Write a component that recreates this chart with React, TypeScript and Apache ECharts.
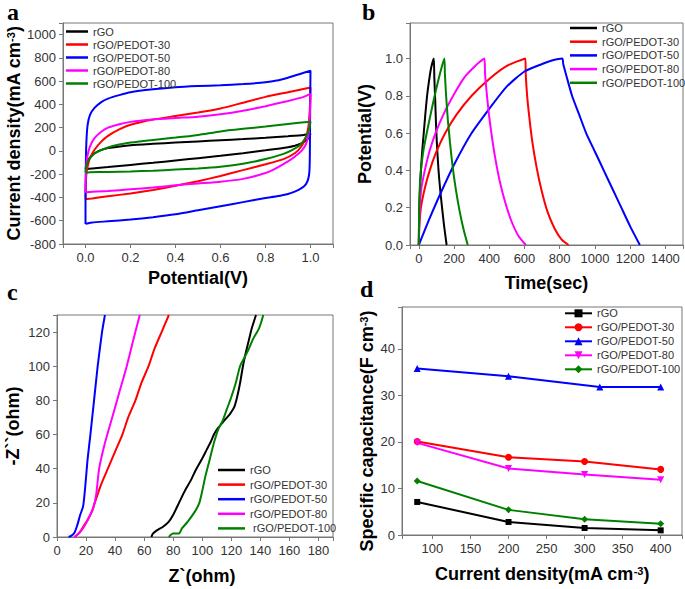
import React, { useEffect, useRef } from 'react';
import * as echarts from 'echarts';

const FONT = "'Liberation Sans', Arial, Helvetica, sans-serif";
const SERIF = "'Liberation Serif', 'Times New Roman', serif";

const NAMES = ['rGO', 'rGO/PEDOT-30', 'rGO/PEDOT-50', 'rGO/PEDOT-80', 'rGO/PEDOT-100'];
const COLORS = ['#000000', '#ff0000', '#0000ff', '#ff00ff', '#008000'];

// ---------- Panel a: CV loops [potential V, current density mA cm-3]
const CV_RGO = [[0, -155], [0.005, -110], [0.015, -70], [0.03, -35], [0.06, 0], [0.1, 25], [0.2, 50], [0.3, 62], [0.4, 72], [0.5, 82], [0.6, 92], [0.7, 102], [0.8, 113], [0.9, 127], [0.97, 138], [1.0, 148], [0.995, 120], [0.98, 90], [0.96, 65], [0.93, 45], [0.9, 32], [0.8, 5], [0.7, -20], [0.6, -42], [0.5, -62], [0.4, -82], [0.3, -102], [0.2, -120], [0.1, -138], [0.03, -150], [0, -155]];
const CV_30 = [[0, -415], [0.001, -300], [0.004, -200], [0.01, -130], [0.02, -60], [0.04, 10], [0.07, 80], [0.1, 130], [0.15, 185], [0.2, 225], [0.3, 270], [0.4, 300], [0.5, 330], [0.6, 365], [0.7, 415], [0.8, 465], [0.9, 505], [1.0, 545], [0.998, 400], [0.995, 300], [0.99, 200], [0.98, 120], [0.96, 40], [0.93, -20], [0.88, -70], [0.8, -115], [0.7, -165], [0.6, -215], [0.5, -260], [0.4, -300], [0.3, -335], [0.2, -365], [0.1, -390], [0.03, -408], [0, -415]];
const CV_50 = [[0, -628], [0, -450], [0.001, -250], [0.002, -50], [0.005, 120], [0.01, 230], [0.02, 310], [0.04, 370], [0.07, 420], [0.1, 450], [0.15, 480], [0.2, 505], [0.3, 530], [0.4, 548], [0.5, 558], [0.6, 565], [0.7, 575], [0.8, 590], [0.85, 605], [0.9, 630], [0.95, 660], [1.0, 690], [0.999, 500], [0.998, 200], [0.997, -50], [0.995, -180], [0.99, -240], [0.98, -285], [0.96, -320], [0.93, -350], [0.9, -370], [0.85, -390], [0.8, -405], [0.7, -440], [0.6, -475], [0.5, -510], [0.4, -545], [0.3, -570], [0.2, -590], [0.1, -605], [0.03, -615], [0.005, -625], [0, -628]];
const CV_80 = [[0, -355], [0.001, -250], [0.003, -150], [0.008, -50], [0.02, 40], [0.04, 110], [0.07, 165], [0.1, 200], [0.15, 230], [0.2, 250], [0.3, 270], [0.4, 283], [0.5, 295], [0.6, 315], [0.7, 345], [0.8, 385], [0.9, 430], [0.97, 465], [1.0, 490], [0.998, 350], [0.995, 220], [0.99, 130], [0.98, 60], [0.96, 0], [0.93, -50], [0.9, -90], [0.85, -145], [0.8, -190], [0.7, -240], [0.6, -265], [0.5, -280], [0.4, -295], [0.3, -315], [0.2, -330], [0.1, -345], [0.02, -352], [0, -355]];
const CV_100 = [[0, -185], [0.003, -140], [0.01, -95], [0.025, -50], [0.05, -10], [0.1, 30], [0.15, 55], [0.2, 72], [0.3, 95], [0.4, 115], [0.5, 138], [0.6, 168], [0.7, 190], [0.8, 210], [0.9, 232], [1.0, 252], [0.995, 200], [0.985, 140], [0.97, 90], [0.95, 45], [0.92, 10], [0.88, -25], [0.8, -70], [0.7, -110], [0.6, -135], [0.5, -150], [0.4, -160], [0.3, -170], [0.2, -176], [0.1, -180], [0.02, -184], [0, -185]];

// ---------- Panel b: GCD [time s, potential V]
const GCD_RGO = [[0, 0], [1, 0.1], [3, 0.2], [7, 0.3], [12, 0.4], [19, 0.5], [28, 0.6], [37, 0.7], [47, 0.8], [58, 0.88], [70, 0.95], [85, 1.0], [88, 0.9], [93, 0.78], [98, 0.64], [104, 0.52], [112, 0.4], [121, 0.3], [132, 0.2], [144, 0.1], [158, 0]];
const GCD_30 = [[0, 0], [3, 0.1], [12, 0.2], [33, 0.3], [62, 0.4], [100, 0.5], [150, 0.6], [215, 0.7], [300, 0.8], [400, 0.89], [500, 0.96], [605, 1.0], [607, 0.92], [615, 0.8], [628, 0.68], [645, 0.55], [668, 0.42], [695, 0.3], [730, 0.18], [770, 0.09], [810, 0.03], [850, 0]];
const GCD_50 = [[0, 0], [30, 0.07], [60, 0.14], [125, 0.28], [200, 0.43], [300, 0.6], [400, 0.73], [500, 0.85], [600, 0.93], [700, 0.97], [760, 0.99], [815, 1.0], [820, 0.97], [840, 0.9], [870, 0.8], [910, 0.7], [950, 0.6], [1000, 0.5], [1050, 0.4], [1100, 0.3], [1150, 0.2], [1200, 0.1], [1255, 0]];
const GCD_80 = [[0, 0], [2, 0.1], [6, 0.2], [14, 0.3], [34, 0.4], [60, 0.5], [95, 0.6], [140, 0.7], [195, 0.8], [260, 0.9], [320, 0.96], [372, 1.0], [376, 0.92], [385, 0.82], [398, 0.7], [415, 0.58], [435, 0.46], [460, 0.34], [490, 0.23], [525, 0.13], [565, 0.05], [608, 0]];
const GCD_100 = [[0, 0], [1, 0.1], [2, 0.2], [5, 0.3], [12, 0.4], [25, 0.5], [45, 0.6], [67, 0.7], [90, 0.8], [118, 0.91], [145, 1.0], [148, 0.92], [155, 0.8], [165, 0.67], [177, 0.55], [192, 0.42], [210, 0.3], [232, 0.18], [255, 0.08], [278, 0]];

// ---------- Panel c: Nyquist [Z' ohm, -Z'' ohm]
const EIS_RGO = [[65, 0], [66, 2], [69, 4], [73, 6], [77, 9], [80, 13], [84, 20], [88, 27], [92, 33], [96, 40], [100, 46], [103, 51], [106, 56], [108, 60], [111, 64], [115, 68], [119, 72], [122, 76], [124, 82], [126, 90], [128, 100], [130, 108], [132, 115], [134, 122], [137, 130]];
const EIS_30 = [[12, 0], [15, 2], [18, 6], [21, 10], [24, 15], [26, 20], [30, 30], [35, 40], [40, 50], [45, 60], [49, 70], [54, 80], [58, 90], [63, 100], [67, 110], [72, 120], [77, 130]];
const EIS_50 = [[8, 0], [10, 0.8], [12, 2.5], [14, 7], [16, 13], [18, 18], [19.5, 30], [21, 45], [23, 60], [25.5, 80], [28, 100], [31, 120], [33, 130]];
const EIS_80 = [[12, 0], [14, 1.5], [17, 4], [20, 8], [23, 13], [25, 17], [27, 25], [29, 40], [33, 55], [38, 70], [43, 85], [48, 100], [53, 117], [57, 130]];
const EIS_100 = [[77, 0], [78, 1], [80, 2], [84, 2], [86, 5], [90, 9], [95, 15], [98, 20], [100, 27], [102, 35], [105, 45], [108, 55], [111, 63], [114, 68], [117, 75], [120, 82], [123, 90], [126, 100], [129, 105], [132, 110], [135, 116], [139, 122], [141, 127], [142, 130]];

// ---------- Panel d: specific capacitance vs current density
const CD_X = [80, 200, 300, 400];
const CD_X_50 = [80, 200, 320, 400];
const SC_RGO = [7.1, 2.8, 1.5, 1.0];
const SC_30 = [20.1, 16.7, 15.8, 14.1];
const SC_50 = [35.8, 34.1, 31.8, 31.8];
const SC_80 = [19.8, 14.3, 13.0, 11.9];
const SC_100 = [11.6, 5.4, 3.4, 2.4];

const isMult = (v: number, step: number) => Math.abs(v / step - Math.round(v / step)) < 1e-6;

const titleStyle = (padding?: number[]) => ({
  fontSize: 18,
  fontWeight: 'bold',
  color: '#000',
  fontFamily: FONT,
  padding: padding || [0, 0, 0, 0],
  rich: {
    sup: { fontSize: 11, fontWeight: 'bold', color: '#000', fontFamily: FONT, verticalAlign: 'top', lineHeight: 11 },
  },
});

function axis(gridIndex: number, min: number, max: number, step: number, dec: number, name: string, nameGap: number, vertical: boolean, padding?: number[]) {
  return {
    type: 'value',
    gridIndex,
    min,
    max,
    minInterval: step,
    maxInterval: step,
    splitNumber: Math.round((max - min) / step),
    axisLine: { show: true, onZero: false, lineStyle: { color: '#777', width: 1 } },
    axisTick: { show: true, inside: false, length: 4, lineStyle: { color: '#777', width: 1 } },
    axisLabel: {
      color: '#333',
      fontSize: 13,
      fontFamily: FONT,
      margin: 7,
      formatter: (v: number) => (isMult(v, step) ? v.toFixed(dec) : ''),
    },
    splitLine: { show: false },
    name,
    nameLocation: 'middle',
    nameGap,
    nameRotate: vertical ? 90 : 0,
    nameTextStyle: titleStyle(padding),
  };
}

function legend(prefix: string, left: number, top: number, itemWidth: number, itemGap: number, lineIcon: boolean) {
  return {
    data: NAMES.map((n) => (lineIcon ? { name: prefix + '|' + n, icon: 'rect' } : prefix + '|' + n)),
    orient: 'vertical',
    left,
    top,
    padding: 0,
    itemWidth,
    itemHeight: lineIcon ? 2.5 : 10,
    itemGap,
    selectedMode: false,
    formatter: (n: string) => {
      const s = n.slice(2);
      return prefix === 'c' && s === 'rGO/PEDOT-100' ? ' ' + s : s;
    },
    textStyle: { fontSize: 11, lineHeight: 11, color: '#333', fontFamily: FONT },
  };
}

function lines(prefix: string, idx: number, datas: number[][][], smooth: number) {
  return datas.map((d, i) => ({
    type: 'line',
    name: prefix + '|' + NAMES[i],
    xAxisIndex: idx,
    yAxisIndex: idx,
    data: d,
    symbol: 'none',
    smooth,
    lineStyle: { color: COLORS[i], width: 2 },
    itemStyle: { color: COLORS[i] },
  }));
}

const SYMBOLS = ['rect', 'circle', 'triangle', 'triangle', 'diamond'];
const SYMROT = [0, 0, 0, 180, 0];
const SYMSIZE = [6, 7, 7, 7, 7];

function buildOption() {
  const capData = [SC_RGO, SC_30, SC_50, SC_80, SC_100].map((vals, i) =>
    vals.map((v, j) => [i === 2 ? CD_X_50[j] : CD_X[j], v])
  );
  const grid = (left: number, top: number, width: number, height: number) => ({
    left, top, width, height, containLabel: false, outerBoundsMode: 'none',
    show: true, borderColor: '#777', borderWidth: 1, backgroundColor: 'transparent',
  });
  const letter = (t: string, x: number, y: number, va: string) => ({
    type: 'text', x, y,
    style: { text: t, font: `bold 24px ${SERIF}`, fill: '#000', verticalAlign: va, align: 'left' },
  });
  return {
    animation: false,
    backgroundColor: '#ffffff',
    grid: [grid(63, 23, 270, 221), grid(410, 23, 273, 222), grid(57, 315, 276, 222), grid(402, 307, 280, 228)],
    xAxis: [
      axis(0, -0.1, 1.1, 0.2, 1, 'Potential(V)', 25, false),
      axis(1, -50, 1500, 200, 0, 'Time(sec)', 29, false),
      axis(2, 0, 190, 20, 0, 'Z`(ohm)', 30, false, [0, 0, 0, 14]),
      axis(3, 60, 428, 50, 0, 'Current density(mA cm{sup|-3})', 30, false),
    ],
    yAxis: [
      axis(0, -800, 1100, 200, 0, 'Current density(mA cm{sup|-3})', 39, true),
      axis(1, 0, 1.19, 0.2, 1, 'Potential(V)', 36, true),
      axis(2, 0, 130, 20, 0, '-Z``(ohm)', 35, true),
      axis(3, 0, 49, 10, 0, 'Specific capacitance(F cm{sup|-3})', 26, true, [0, 20, 0, 0]),
    ],
    legend: [
      legend('a', 66, 26, 22, 2, true),
      legend('b', 570, 22.5, 27, 2.7, true),
      legend('c', 218, 464.5, 27, 3.6, true),
      legend('d', 564, 307.8, 27, 3, false),
    ],
    graphic: [
      letter('a', 7, 0, 'top'),
      letter('b', 362, 0, 'top'),
      letter('c', 7, 292, 'middle'),
      letter('d', 360, 289, 'middle'),
    ],
    series: [
      ...lines('a', 0, [CV_RGO, CV_30, CV_50, CV_80, CV_100], 0.2),
      ...lines('b', 1, [GCD_RGO, GCD_30, GCD_50, GCD_80, GCD_100], 0.2),
      ...lines('c', 2, [EIS_RGO, EIS_30, EIS_50, EIS_80, EIS_100], 0.2),
      ...capData.map((d, i) => ({
        type: 'line',
        name: 'd|' + NAMES[i],
        xAxisIndex: 3,
        yAxisIndex: 3,
        data: d,
        symbol: SYMBOLS[i],
        symbolRotate: SYMROT[i],
        symbolSize: SYMSIZE[i],
        showSymbol: true,
        lineStyle: { color: COLORS[i], width: 2 },
        itemStyle: { color: COLORS[i] },
      })),
    ],
  };
}

export default function App() {
  const ref = useRef<HTMLDivElement>(null);
  useEffect(() => {
    if (!ref.current) return;
    const chart = echarts.init(ref.current, null, { renderer: 'svg', width: 685, height: 589 });
    chart.setOption(buildOption() as any);
    return () => chart.dispose();
  }, []);
  return (
    <div
      ref={ref}
      style={{ position: 'absolute', left: 0, top: 0, width: 685, height: 589, background: '#fff' }}
    />
  );
}
